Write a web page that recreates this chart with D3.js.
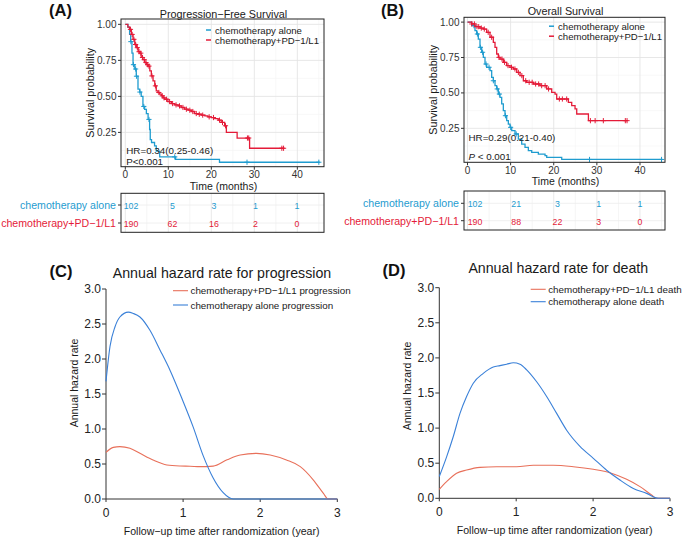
<!DOCTYPE html>
<html><head><meta charset="utf-8">
<script src="https://cdn.jsdelivr.net/npm/d3@7"></script>
<style>
body{margin:0;background:#fff}
svg{display:block}
text{font-family:"Liberation Sans",Arial,Helvetica,sans-serif}
</style>
</head><body>
<svg id="chart" width="685" height="537"></svg>
<script>
// ---------------- DATA ----------------
const kmTicks = [0, 10, 20, 30, 40];
const kmMinor = [5, 15, 25, 35, 45];
const survTicks = [0.25, 0.50, 0.75, 1.00];
const survMinor = [0.125, 0.375, 0.625, 0.875];
const groups = ["chemotherapy alone", "chemotherapy+PD\u22121/L1"];

// PFS – chemotherapy alone (step times / survival after each step)
const pfsChemoT = [0, 0.6, 1.0, 1.25, 1.55, 1.8, 2.2, 2.55, 2.95, 3.35, 3.7, 4.1, 4.5, 4.9, 5.3, 5.65, 5.8, 6.1, 6.8, 7.2, 8.0, 11.7, 21.9];
const pfsChemoS = [1, 0.98, 0.93, 0.88, 0.80, 0.72, 0.69, 0.64, 0.55, 0.53, 0.50, 0.43, 0.41, 0.38, 0.34, 0.27, 0.20, 0.18, 0.157, 0.12, 0.08, 0.063, 0.043];
const pfsChemoEnd = 45.2;
const pfsChemoCens = [1.3, 1.9, 2.4, 2.6, 3.4, 4.3, 5.5, 11.5, 28.3, 45];
// PFS – chemotherapy + PD-1/L1
const pfsComboT = [0, 0.6, 1.0, 1.4, 1.8, 2.2, 2.6, 3.0, 3.4, 3.7, 4.1, 4.5, 4.9, 5.3, 5.7, 6.05, 6.45, 6.85, 7.2, 7.6, 8.0, 8.4, 8.8, 9.2, 9.9, 10.7, 11.5, 12.3, 13.0, 13.8, 14.6, 15.4, 16.1, 16.9, 17.7, 18.5, 19.2, 20.0, 20.8, 21.6, 22.3, 23.1, 23.5, 26.0, 28.9];
const pfsComboS = [1, 0.98, 0.965, 0.93, 0.896, 0.86, 0.838, 0.81, 0.80, 0.77, 0.755, 0.735, 0.72, 0.71, 0.677, 0.642, 0.607, 0.573, 0.538, 0.527, 0.515, 0.504, 0.49, 0.48, 0.464, 0.45, 0.441, 0.434, 0.423, 0.411, 0.404, 0.395, 0.381, 0.376, 0.37, 0.365, 0.358, 0.353, 0.345, 0.335, 0.319, 0.296, 0.25, 0.211, 0.14];
const pfsComboEnd = 37;
const pfsComboCens = [1.2, 1.6, 2.0, 2.4, 2.8, 3.2, 3.6, 4.0, 4.4, 4.8, 5.2, 5.5, 6.2, 7.0, 7.8, 8.6, 9.0, 9.6, 10.3, 11.0, 11.8, 12.6, 13.4, 14.2, 15.0, 15.7, 16.5, 17.2, 18.0, 19.5, 20.5, 21.9, 22.6, 23.3, 28.4, 28.7, 36.4, 36.8];

// OS – chemotherapy alone
const osChemoT = [0, 0.97, 1.74, 2.13, 2.51, 2.9, 3.29, 3.67, 4.06, 4.45, 5.22, 5.61, 5.99, 6.38, 6.77, 7.15, 7.54, 7.93, 8.31, 8.7, 9.09, 9.47, 9.86, 10.25, 11.02, 11.79, 12.57, 13.34, 14.11, 14.89, 16.43, 17.98, 18.37, 21.85];
const osChemoS = [1, 0.975, 0.94, 0.916, 0.88, 0.822, 0.787, 0.751, 0.704, 0.681, 0.657, 0.61, 0.586, 0.551, 0.528, 0.492, 0.469, 0.422, 0.375, 0.339, 0.304, 0.28, 0.257, 0.233, 0.21, 0.174, 0.139, 0.115, 0.092, 0.08, 0.068, 0.057, 0.045, 0.03];
const osChemoEnd = 45.2;
const osChemoCens = [1.5, 2.3, 3.0, 3.5, 4.3, 5.0, 6.0, 6.9, 7.4, 8.8, 10.0, 11.3, 28.3, 45];
// OS – chemotherapy + PD-1/L1
const osComboT = [0, 0.97, 1.74, 2.9, 3.67, 4.45, 5.22, 5.99, 6.38, 6.77, 7.15, 7.54, 8.31, 9.09, 9.86, 10.63, 11.41, 12.18, 12.95, 13.73, 15.27, 16.82, 18.37, 19.53, 20.3, 20.69, 23.39, 24.17, 24.94, 25.33, 28.04];
const osComboS = [1, 0.987, 0.968, 0.958, 0.951, 0.928, 0.893, 0.857, 0.822, 0.775, 0.751, 0.739, 0.716, 0.693, 0.681, 0.669, 0.645, 0.622, 0.586, 0.575, 0.563, 0.551, 0.528, 0.504, 0.492, 0.457, 0.433, 0.41, 0.387, 0.351, 0.304];
const osComboEnd = 37;
const osComboCens = [1.0, 1.6, 2.2, 2.6, 3.2, 3.9, 4.8, 5.6, 7.3, 8.0, 8.6, 9.4, 10.2, 11.0, 11.8, 12.6, 13.5, 14.3, 15.0, 15.8, 16.5, 17.2, 18.0, 18.8, 21.3, 22.0, 23.0, 28.5, 29.6, 31.5, 36.6, 37];

// Numbers at risk
const riskTimes = [0, 10, 20, 30, 40];
const pfsRiskChemo = [102, 5, 3, 1, 1];
const pfsRiskCombo = [190, 62, 16, 2, 0];
const osRiskChemo = [102, 21, 3, 1, 1];
const osRiskCombo = [190, 88, 22, 3, 0];

// Annual hazard rates
const hazTicksX = [0, 1, 2, 3];
const hazTicksY = [0, 0.5, 1.0, 1.5, 2.0, 2.5, 3.0];
const hzPfsComboX = [0, 0.095, 0.18, 0.31, 0.44, 0.61, 0.79, 0.96, 1.09, 1.22, 1.39, 1.57, 1.74, 1.95, 2.13, 2.34, 2.52, 2.69, 2.82, 2.88, 3.0];
const hzPfsComboY = [0.667, 0.738, 0.748, 0.724, 0.652, 0.557, 0.486, 0.471, 0.468, 0.462, 0.47, 0.56, 0.628, 0.652, 0.629, 0.557, 0.462, 0.271, 0.081, 0, 0];
const hzPfsChemoX = [0, 0.052, 0.117, 0.18, 0.29, 0.355, 0.44, 0.57, 0.7, 0.83, 0.994, 1.13, 1.26, 1.39, 1.52, 1.65, 3.0];
const hzPfsChemoY = [1.68, 2.18, 2.46, 2.6, 2.67, 2.65, 2.6, 2.41, 2.13, 1.84, 1.41, 1.03, 0.62, 0.3, 0.09, 0, 0];
const hzOsComboX = [0, 0.095, 0.225, 0.355, 0.529, 0.746, 1.006, 1.222, 1.482, 1.743, 2.003, 2.219, 2.436, 2.61, 2.761, 2.826, 3.0];
const hzOsComboY = [0.128, 0.237, 0.356, 0.403, 0.441, 0.45, 0.45, 0.47, 0.47, 0.45, 0.413, 0.365, 0.27, 0.166, 0.047, 0, 0];
const hzOsChemoX = [0, 0.095, 0.182, 0.269, 0.355, 0.442, 0.572, 0.702, 0.789, 0.876, 0.962, 1.049, 1.136, 1.266, 1.396, 1.526, 1.656, 1.829, 2.003, 2.176, 2.349, 2.523, 2.696, 2.848, 3.0];
const hzOsChemoY = [0.31, 0.59, 0.88, 1.21, 1.45, 1.64, 1.78, 1.87, 1.89, 1.91, 1.93, 1.91, 1.83, 1.66, 1.45, 1.21, 0.97, 0.74, 0.57, 0.40, 0.26, 0.14, 0.07, 0, 0];

// ---------------- STYLE ----------------
const BLUE = "#1f9ccf", RED = "#e41b38";
const HBLUE = "#3a80d8", HRED = "#e8705a";
const TXT = "#1a1a1a";
const svg = d3.select("#chart");
const fmt2 = d3.format(".2f"), fmt1 = d3.format(".1f");

function stepVal(T, S, t) {
  let v = S[0];
  for (let i = 0; i < T.length; i++) if (T[i] <= t) v = S[i];
  return v;
}

function drawKM(c) {
  const g = svg.append("g");
  const x = d3.scaleLinear().domain(c.xd).range([c.l, c.r]);
  const y = d3.scaleLinear().domain(c.yd).range([c.b, c.t]);
  // grid
  g.selectAll(".mnx").data(kmMinor.filter(v => x(v) < c.r)).join("line")
    .attr("x1", d => x(d)).attr("x2", d => x(d)).attr("y1", c.t).attr("y2", c.b)
    .attr("stroke", "#f3f3f3").attr("stroke-width", 0.6);
  g.selectAll(".mny").data(survMinor).join("line")
    .attr("y1", d => y(d)).attr("y2", d => y(d)).attr("x1", c.l).attr("x2", c.r)
    .attr("stroke", "#f3f3f3").attr("stroke-width", 0.6);
  g.selectAll(".mjx").data(kmTicks).join("line")
    .attr("x1", d => x(d)).attr("x2", d => x(d)).attr("y1", c.t).attr("y2", c.b)
    .attr("stroke", "#e4e4e4").attr("stroke-width", 0.9);
  g.selectAll(".mjy").data(survTicks).join("line")
    .attr("y1", d => y(d)).attr("y2", d => y(d)).attr("x1", c.l).attr("x2", c.r)
    .attr("stroke", "#e4e4e4").attr("stroke-width", 0.9);
  // curves
  const line = d3.line().x(d => x(d[0])).y(d => y(d[1])).curve(d3.curveStepAfter);
  c.curves.forEach(cv => {
    const pts = cv.T.map((t, i) => [t, cv.S[i]]);
    pts.push([cv.end, cv.S[cv.S.length - 1]]);
    g.append("path").attr("d", line(pts)).attr("fill", "none")
      .attr("stroke", cv.color).attr("stroke-width", 1.3);
    cv.cens.forEach(t => {
      const px = x(t), py = y(stepVal(cv.T, cv.S, t));
      g.append("path").attr("d", `M${px - 2.6},${py}H${px + 2.6}M${px},${py - 2.6}V${py + 2.6}`)
        .attr("stroke", cv.color).attr("stroke-width", 1);
    });
  });
  // box
  g.append("rect").attr("x", c.l).attr("y", c.t).attr("width", c.r - c.l).attr("height", c.b - c.t)
    .attr("fill", "none").attr("stroke", "#222").attr("stroke-width", 1);
  // axes ticks
  g.selectAll(".ty").data(survTicks).join("line")
    .attr("x1", c.l - 3).attr("x2", c.l).attr("y1", d => y(d)).attr("y2", d => y(d)).attr("stroke", "#333");
  g.selectAll(".tyl").data(survTicks).join("text")
    .attr("x", c.l - 4.5).attr("y", d => y(d)).attr("text-anchor", "end").attr("dominant-baseline", "central")
    .attr("font-size", 10).attr("fill", "#333").text(d => fmt2(d));
  g.selectAll(".tx").data(kmTicks).join("line")
    .attr("x1", d => x(d)).attr("x2", d => x(d)).attr("y1", c.b).attr("y2", c.b + 3).attr("stroke", "#333");
  g.selectAll(".txl").data(kmTicks).join("text")
    .attr("x", d => x(d)).attr("y", c.b + 8).attr("text-anchor", "middle").attr("dominant-baseline", "central")
    .attr("font-size", 10).attr("fill", "#333").text(d => d);
  // labels
  g.append("text").attr("x", (c.l + c.r) / 2 + 1).attr("y", c.titleY).attr("text-anchor", "middle")
    .attr("dominant-baseline", "central").attr("font-size", 10.8).attr("fill", TXT).text(c.title);
  g.append("text").attr("x", (c.l + c.r) / 2 + 1).attr("y", c.b + 19).attr("text-anchor", "middle")
    .attr("dominant-baseline", "central").attr("font-size", 10.5).attr("fill", TXT).text("Time (months)");
  g.append("text").attr("transform", `translate(${c.ylabX},${(c.t + c.b) / 2})rotate(-90)`)
    .attr("text-anchor", "middle").attr("dominant-baseline", "central").attr("font-size", 10.7)
    .attr("fill", TXT).text("Survival probability");
  // legend
  c.curves.forEach((cv, i) => {
    const ly = c.legY + i * c.legDy;
    g.append("line").attr("x1", c.legX).attr("x2", c.legX + 5).attr("y1", ly).attr("y2", ly)
      .attr("stroke", cv.color).attr("stroke-width", 1.5);
    g.append("text").attr("x", c.legX + 9).attr("y", ly).attr("dominant-baseline", "central")
      .attr("font-size", 9.6).attr("fill", TXT).text(groups[i]);
  });
  // HR / p
  g.append("text").attr("x", x(0) + 1).attr("y", c.hrY).attr("dominant-baseline", "central")
    .attr("font-size", 9.8).attr("fill", TXT).text(c.hr);
  const pt = g.append("text").attr("x", x(0) + 1).attr("y", c.pY).attr("dominant-baseline", "central")
    .attr("font-size", 9.8).attr("fill", TXT);
  if (c.pItalic) { pt.append("tspan").attr("font-style", "italic").text("P"); pt.append("tspan").text(" < 0.001"); }
  else pt.text("P<0.001");
  return x;
}

function drawRisk(c, kx) {
  const g = svg.append("g");
  const rx = d3.scaleLinear().domain([0, 40]).range(c.numRange);
  g.selectAll(".mn").data(kmMinor.filter(v => kx(v) < c.r)).join("line")
    .attr("x1", d => kx(d)).attr("x2", d => kx(d)).attr("y1", c.t).attr("y2", c.b)
    .attr("stroke", "#f0f0f0").attr("stroke-width", 0.7);
  g.selectAll(".mj").data(kmTicks).join("line")
    .attr("x1", d => kx(d)).attr("x2", d => kx(d)).attr("y1", c.t).attr("y2", c.b)
    .attr("stroke", "#e6e6e6").attr("stroke-width", 0.9);
  g.selectAll(".hr").data(c.rows).join("line")
    .attr("x1", c.l).attr("x2", c.r).attr("y1", d => d).attr("y2", d => d)
    .attr("stroke", "#ececec").attr("stroke-width", 0.8);
  g.append("rect").attr("x", c.l).attr("y", c.t).attr("width", c.r - c.l).attr("height", c.b - c.t)
    .attr("fill", "none").attr("stroke", "#222").attr("stroke-width", 1);
  const sets = [[c.chemo, BLUE], [c.combo, RED]];
  sets.forEach(([vals, col], i) => {
    const yy = c.rows[i];
    g.append("line").attr("x1", c.l - 3).attr("x2", c.l).attr("y1", yy).attr("y2", yy).attr("stroke", "#333");
    g.append("text").attr("x", c.l - 5).attr("y", yy).attr("text-anchor", "end").attr("dominant-baseline", "central")
      .attr("font-size", 10.6).attr("fill", col).text(groups[i]);
    g.selectAll(null).data(vals).join("text")
      .attr("x", (d, j) => rx(riskTimes[j])).attr("y", yy + 1).attr("text-anchor", "middle")
      .attr("dominant-baseline", "central").attr("font-size", 8.8).attr("fill", col).text(d => d);
  });
}

function drawHazard(c) {
  const g = svg.append("g");
  const x = d3.scaleLinear().domain([0, 3]).range([c.x0, c.x3]);
  const y = d3.scaleLinear().domain([0, 3]).range([c.y0, c.y3]);
  // axes
  g.append("line").attr("x1", c.x0).attr("x2", c.x3).attr("y1", c.y0).attr("y2", c.y0).attr("stroke", "#333");
  g.append("line").attr("x1", c.x0).attr("x2", c.x0).attr("y1", c.y0).attr("y2", c.y3).attr("stroke", "#333");
  g.selectAll(".tx").data(hazTicksX).join("line")
    .attr("x1", d => x(d)).attr("x2", d => x(d)).attr("y1", c.y0).attr("y2", c.y0 + 3).attr("stroke", "#333");
  g.selectAll(".txl").data(hazTicksX).join("text")
    .attr("x", d => x(d)).attr("y", c.y0 + 14).attr("text-anchor", "middle").attr("dominant-baseline", "central")
    .attr("font-size", 12).attr("fill", "#222").text(d => d);
  g.selectAll(".ty").data(hazTicksY).join("line")
    .attr("x1", c.x0 - 4).attr("x2", c.x0).attr("y1", d => y(d)).attr("y2", d => y(d)).attr("stroke", "#333");
  g.selectAll(".tyl").data(hazTicksY).join("text")
    .attr("x", c.x0 - 5).attr("y", d => y(d)).attr("text-anchor", "end").attr("dominant-baseline", "central")
    .attr("font-size", 12).attr("fill", "#222").text(d => fmt1(d));
  // curves
  const line = d3.line().x(d => x(d[0])).y(d => y(d[1])).curve(d3.curveMonotoneX);
  c.curves.forEach(cv => {
    g.append("path").attr("d", line(cv.X.map((v, i) => [v, cv.Y[i]]))).attr("fill", "none")
      .attr("stroke", cv.color).attr("stroke-width", 1.1);
  });
  // labels
  g.append("text").attr("x", c.titleX).attr("y", c.titleY).attr("text-anchor", "middle")
    .attr("font-size", 14.2).attr("fill", TXT).text(c.title);
  g.append("text").attr("x", (c.x0 + c.x3) / 2).attr("y", c.xlabY).attr("text-anchor", "middle")
    .attr("dominant-baseline", "central").attr("font-size", 10.6).attr("fill", TXT)
    .text("Follow\u2212up time after randomization (year)");
  g.append("text").attr("transform", `translate(${c.ylabX},${c.ylabY})rotate(-90)`)
    .attr("text-anchor", "middle").attr("dominant-baseline", "central").attr("font-size", 10.5)
    .attr("fill", TXT).text("Annual hazard rate");
  c.curves.forEach((cv, i) => {
    const ly = c.legY + i * c.legDy;
    g.append("line").attr("x1", c.legX).attr("x2", c.legX + 15).attr("y1", ly).attr("y2", ly)
      .attr("stroke", cv.color).attr("stroke-width", 1.1);
    g.append("text").attr("x", c.legX + 17.5).attr("y", ly).attr("dominant-baseline", "central")
      .attr("font-size", 9.8).attr("fill", TXT).text(cv.label);
  });
}

function panelLabel(txt, x, y) {
  svg.append("text").attr("x", x).attr("y", y).attr("text-anchor", "middle").attr("dominant-baseline", "central")
    .attr("font-family", "'Liberation Serif','Times New Roman',serif").attr("font-weight", "bold")
    .attr("font-size", 16.5).attr("fill", "#111").text(txt);
}

// ---------------- PANELS ----------------
const xA = drawKM({
  xd: [-1, 46.2], l: 121, r: 324, yd: [0.012, 1.037], t: 19, b: 166.7,
  title: "Progression\u2212Free Survival", titleY: 13.5, ylabX: 89.5,
  legX: 206, legY: 30, legDy: 10,
  hr: "HR=0.34(0.25-0.46)", hrY: 150, pY: 161, pItalic: false,
  curves: [
    { T: pfsChemoT, S: pfsChemoS, end: pfsChemoEnd, cens: pfsChemoCens, color: BLUE },
    { T: pfsComboT, S: pfsComboS, end: pfsComboEnd, cens: pfsComboCens, color: RED }
  ]
});
const xB = drawKM({
  xd: [-0.81, 45.8], l: 464, r: 665, yd: [0.01, 1.034], t: 17.3, b: 162.3,
  title: "Overall Survival", titleY: 11, ylabX: 432.5,
  legX: 549, legY: 26.2, legDy: 10,
  hr: "HR=0.29(0.21-0.40)", hrY: 137.3, pY: 155.7, pItalic: true,
  curves: [
    { T: osChemoT, S: osChemoS, end: osChemoEnd, cens: osChemoCens, color: BLUE },
    { T: osComboT, S: osComboS, end: osComboEnd, cens: osComboCens, color: RED }
  ]
});
drawRisk({ l: 121, r: 324, t: 193.3, b: 232.3, rows: [205, 223], numRange: [131, 297],
  chemo: pfsRiskChemo, combo: pfsRiskCombo }, xA);
drawRisk({ l: 464, r: 665, t: 191, b: 230, rows: [203.3, 220.7], numRange: [475, 640],
  chemo: osRiskChemo, combo: osRiskCombo }, xB);

drawHazard({
  x0: 106, x3: 337.3, y0: 499, y3: 289,
  title: "Annual hazard rate for progression", titleX: 222, titleY: 277.5,
  xlabY: 530.7, ylabX: 74, ylabY: 383,
  legX: 173, legY: 290.7, legDy: 14.3,
  curves: [
    { X: hzPfsComboX, Y: hzPfsComboY, color: HRED, label: "chemotherapy+PD\u22121/L1 progression" },
    { X: hzPfsChemoX, Y: hzPfsChemoY, color: HBLUE, label: "chemotherapy alone progression" }
  ]
});
drawHazard({
  x0: 439.3, x3: 670, y0: 498.3, y3: 287.7,
  title: "Annual hazard rate for death", titleX: 558.3, titleY: 272.5,
  xlabY: 530, ylabX: 407.3, ylabY: 386,
  legX: 530.7, legY: 289.3, legDy: 12.4,
  curves: [
    { X: hzOsComboX, Y: hzOsComboY, color: HRED, label: "chemotherapy+PD\u22121/L1 death" },
    { X: hzOsChemoX, Y: hzOsChemoY, color: HBLUE, label: "chemotherapy alone death" }
  ]
});

panelLabel("(A)", 60.5, 10);
panelLabel("(B)", 392.5, 10);
panelLabel("(C)", 61, 271);
panelLabel("(D)", 394, 269.5);
</script>
</body></html>
